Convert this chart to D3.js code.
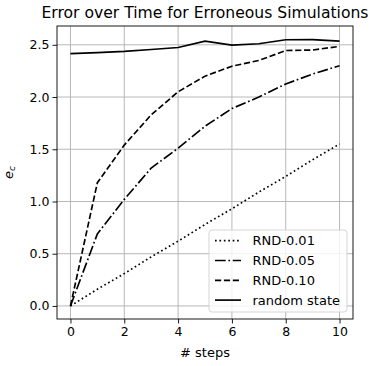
<!DOCTYPE html>
<html>
<head>
<meta charset="utf-8">
<script src="https://cdn.jsdelivr.net/npm/d3@7"></script>
<style>
  body { margin: 0; background: #fff; }
  text { font-family: "DejaVu Sans", sans-serif; fill: #000; }
</style>
</head>
<body>
<div id="chart"></div>
<script>
// values
const steps = [0, 1, 2, 3, 4, 5, 6, 7, 8, 9, 10];
const rnd001 = [0.0, 0.16, 0.31, 0.47, 0.62, 0.78, 0.93, 1.09, 1.24, 1.40, 1.55];
const rnd005 = [0.0, 0.69, 1.02, 1.32, 1.51, 1.72, 1.89, 2.0, 2.125, 2.22, 2.30];
const rnd010 = [0.0, 1.18, 1.54, 1.83, 2.05, 2.2, 2.295, 2.35, 2.445, 2.45, 2.485];
const randomState = [2.415, 2.425, 2.437, 2.455, 2.474, 2.535, 2.497, 2.51, 2.548, 2.55, 2.535];
const xTicks = [0, 2, 4, 6, 8, 10];
const yTicks = [0.0, 0.5, 1.0, 1.5, 2.0, 2.5];

const series = [
  { name: 'RND-0.01', values: rnd001, dash: '1.67,2.75' },
  { name: 'RND-0.05', values: rnd005, dash: '10.7,2.7,1.67,2.7' },
  { name: 'RND-0.10', values: rnd010, dash: '6.2,2.7' },
  { name: 'random state', values: randomState, dash: null },
];

const W = 370, H = 366;
const box = { left: 57, right: 353, top: 26, bottom: 319 };

const svg = d3.select('#chart').append('svg')
  .attr('width', W).attr('height', H);

const x = d3.scaleLinear().domain([-0.5, 10.5]).range([box.left, box.right]);
const y = d3.scaleLinear().domain([-0.125, 2.68]).range([box.bottom, box.top]);

// grid
const grid = svg.append('g');
grid.selectAll('.gx').data(xTicks).join('line')
  .attr('x1', d => x(d)).attr('x2', d => x(d))
  .attr('y1', box.top).attr('y2', box.bottom)
  .attr('stroke', '#b0b0b0').attr('stroke-width', 0.9);
grid.selectAll('.gy').data(yTicks).join('line')
  .attr('y1', d => y(d)).attr('y2', d => y(d))
  .attr('x1', box.left).attr('x2', box.right)
  .attr('stroke', '#b0b0b0').attr('stroke-width', 0.9);

// axes
const xAxis = svg.append('g')
  .attr('transform', `translate(0,${box.bottom})`)
  .call(d3.axisBottom(x).tickValues(xTicks).tickFormat(d3.format('d')).tickSize(4.5).tickPadding(3.5).tickSizeOuter(0));
const yAxis = svg.append('g')
  .attr('transform', `translate(${box.left},0)`)
  .call(d3.axisLeft(y).tickValues(yTicks).tickFormat(d3.format('.1f')).tickSize(4.5).tickPadding(3).tickSizeOuter(0));
[xAxis, yAxis].forEach(a => {
  a.select('.domain').remove();
  a.selectAll('text').attr('font-size', 12.5).attr('font-family', 'DejaVu Sans').attr('fill', '#000');
  a.selectAll('line').attr('stroke', '#000').attr('stroke-width', 0.9);
});

// lines
const line = d3.line().x((d, i) => x(steps[i])).y(d => y(d));
svg.append('g').selectAll('path').data(series).join('path')
  .attr('d', d => line(d.values))
  .attr('fill', 'none')
  .attr('stroke', '#000')
  .attr('stroke-width', 1.67)
  .attr('stroke-dasharray', d => d.dash);

// frame
svg.append('rect')
  .attr('x', box.left).attr('y', box.top)
  .attr('width', box.right - box.left).attr('height', box.bottom - box.top)
  .attr('fill', 'none').attr('stroke', '#000').attr('stroke-width', 0.9);

// legend
const lg = svg.append('g');
lg.append('rect')
  .attr('x', 209).attr('y', 230).attr('width', 138).attr('height', 82)
  .attr('rx', 3).attr('fill', 'rgba(255,255,255,0.8)')
  .attr('stroke', '#d0d0d0').attr('stroke-width', 0.9);
const items = lg.selectAll('g.item').data(series).join('g')
  .attr('transform', (d, i) => `translate(0,${240.7 + i * 19.8})`);
items.append('line')
  .attr('x1', 215).attr('x2', 241).attr('y1', 0).attr('y2', 0)
  .attr('stroke', '#000').attr('stroke-width', 1.67)
  .attr('stroke-dasharray', d => d.dash);
items.append('text')
  .attr('x', 252.5).attr('y', 0).attr('dy', '0.36em')
  .attr('font-size', 13).text(d => d.name);

// title and labels
svg.append('text')
  .attr('x', (box.left + box.right) / 2).attr('y', 17.5)
  .attr('text-anchor', 'middle').attr('font-size', 15.6)
  .text('Error over Time for Erroneous Simulations');
svg.append('text')
  .attr('x', (box.left + box.right) / 2).attr('y', 356.5)
  .attr('text-anchor', 'middle').attr('font-size', 13)
  .text('# steps');
const yl = svg.append('text')
  .attr('transform', `translate(12.5,${(box.top + box.bottom) / 2}) rotate(-90)`)
  .attr('text-anchor', 'middle').attr('font-size', 13).attr('font-style', 'italic');
yl.append('tspan').text('e');
yl.append('tspan').attr('dy', 2.8).attr('font-size', 9).text('c');
</script>
</body>
</html>
